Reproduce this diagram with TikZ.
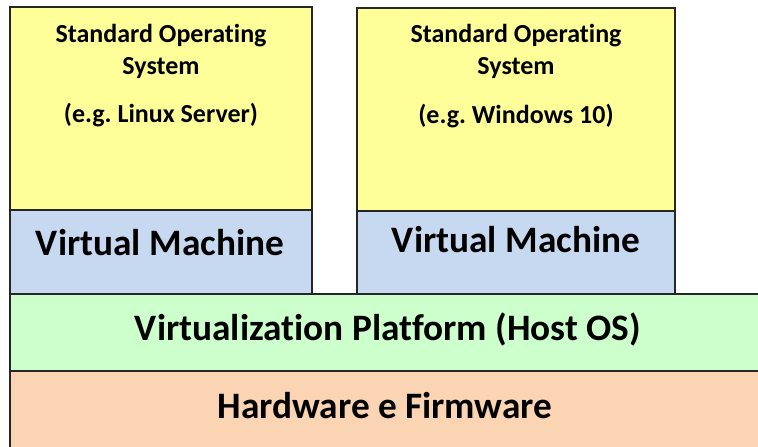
\documentclass[tikz,border=0pt]{standalone}
\usepackage{fontspec}
\setmainfont[Ligatures=NoCommon]{Carlito}
\definecolor{osyellow}{RGB}{255,255,153}
\definecolor{vmblue}{RGB}{198,217,241}
\definecolor{hostgreen}{RGB}{204,255,204}
\definecolor{hwpeach}{RGB}{251,212,180}
\frenchspacing
\begin{document}
\begin{tikzpicture}[x=1pt,y=-1pt,
  layer/.style={draw=black!85, line width=1.4pt, anchor=north west,
    inner sep=0pt, outer sep=0pt},
  small/.style={anchor=base, inner sep=0pt, font=\fontsize{26}{30}\selectfont\bfseries},
  big/.style={anchor=base, inner sep=0pt, font=\fontsize{37.3}{42}\selectfont\bfseries}]
\useasboundingbox (0,0) rectangle (758,447);
% hardware and host layers run past the right and bottom edges
\node[layer, fill=hwpeach, minimum width=760pt, minimum height=82pt] (hw) at (10,371) {};
\node[layer, fill=hostgreen, minimum width=760pt, minimum height=77pt] (host) at (10,294) {};
% left guest stack
\node[layer, fill=vmblue, minimum width=302pt, minimum height=84pt] (vm1) at (10,210) {};
\node[layer, fill=osyellow, minimum width=302pt, minimum height=203pt] (os1) at (10,7) {};
% right guest stack
\node[layer, fill=vmblue, minimum width=318pt, minimum height=83pt] (vm2) at (357,211) {};
\node[layer, fill=osyellow, minimum width=318pt, minimum height=203pt] (os2) at (357,8) {};
% labels
\node[small] (os1a) at (161,42) {Standard Operating};
\node[small] (os1b) at (161,74) {System};
\node[small] (os1c) at (161,122) {(e.g. Linux Server)};
\node[small] (os2a) at (516,42) {Standard Operating};
\node[small] (os2b) at (516,74) {System};
\node[small] (os2c) at (516,123) {(e.g. Windows 10)};
\node[big] (vm1t) at (160,255) {Virtual Machine};
\node[big] (vm2t) at (516,252) {Virtual Machine};
\node[big] (hostt) at (388,340) {Virtualization Platform (Host OS)};
\node[big] (hwt) at (385,418) {Hardware e Firmware};
\end{tikzpicture}
\end{document}
